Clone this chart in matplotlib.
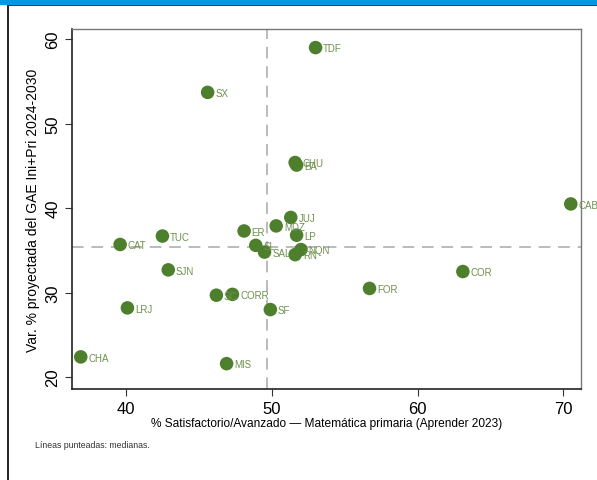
import numpy as np
import matplotlib
matplotlib.use("Agg")
import matplotlib.pyplot as plt
from matplotlib.lines import Line2D
from matplotlib.patches import Rectangle

plt.rcParams["font.family"] = ["Liberation Sans", "DejaVu Sans"]

# =====================================================
# Datos por jurisdicción
# =====================================================
jurisdicciones = ["TDF", "SX", "CHU", "BA", "CABA", "JUJ", "MDZ", "LP", "ER", "TUC",
                  "CAT", "SL", "SAL", "NQN", "RN", "SJN", "COR", "FOR", "SC", "CORR",
                  "LRJ", "SF", "CHA", "MIS"]
pct_satisf = [53.0, 45.6, 51.6, 51.7, 70.5, 51.3, 50.3, 51.7, 48.1, 42.5,
              39.6, 48.9, 49.5, 52.0, 51.6, 42.9, 63.1, 56.7, 46.2, 47.3,
              40.1, 49.9, 36.9, 46.9]
var_gae = [59.0, 53.7, 45.4, 45.1, 40.5, 38.9, 37.9, 36.8, 37.3, 36.7,
           35.7, 35.6, 34.8, 35.1, 34.5, 32.7, 32.5, 30.5, 29.7, 29.8,
           28.2, 28.0, 22.4, 21.6]

PUNTO = "#4e7f2c"
TEXTO = "#6f914d"

fig = plt.figure(figsize=(5.97, 4.81), dpi=100)
ax = fig.add_axes([72 / 597, 1 - 390 / 481, (581 - 72) / 597, (390 - 30) / 481])

# medianas
med_x = np.median(pct_satisf)
med_y = np.median(var_gae)
ax.axvline(med_x, color="#bbbbbb", linestyle=(0, (6, 4)), linewidth=1.4, zorder=1)
ax.axhline(med_y, color="#bbbbbb", linestyle=(0, (6, 4)), linewidth=1.4, zorder=1)

ax.scatter(pct_satisf, var_gae, s=95, color=PUNTO, edgecolor="none", zorder=3)
for nombre, x, y in zip(jurisdicciones, pct_satisf, var_gae):
    ax.annotate(nombre, (x, y), xytext=(5.5, -0.5), textcoords="offset points",
                fontsize=7, color=TEXTO, va="center", ha="left",
                annotation_clip=False, zorder=4)

ax.set_xlim(36.3, 71.2)
ax.set_ylim(18.6, 61.2)
ax.set_xticks([40, 50, 60, 70])
ax.set_yticks([20, 30, 40, 50, 60])
ax.tick_params(labelsize=12, length=5, width=0.8, color="#333333")
for lbl in ax.get_yticklabels():
    lbl.set_rotation(90)
    lbl.set_va("center")

for lado in ["left", "bottom"]:
    ax.spines[lado].set_color("#222222")
    ax.spines[lado].set_linewidth(1.2)
for lado in ["top", "right"]:
    ax.spines[lado].set_color("#777777")
    ax.spines[lado].set_linewidth(1.0)

ax.set_xlabel("% Satisfactorio/Avanzado — Matemática primaria (Aprender 2023)",
              fontsize=8.6, labelpad=1)
ax.set_ylabel("Var. % proyectada del GAE Ini+Pri 2024-2030", fontsize=10, labelpad=4)

fig.text(35 / 597, 1 - 446 / 481, "Líneas punteadas: medianas.", fontsize=6.3,
         color="#333333", va="center")

# marco del recuadro
fig.patches.append(Rectangle((0, 1 - 5 / 481), 1, 5 / 481, transform=fig.transFigure,
                             color="#0099dd", zorder=5))
fig.lines.append(Line2D([7.5 / 597, 7.5 / 597], [0, 1 - 5 / 481], transform=fig.transFigure,
                        color="#111111", linewidth=1.3))
fig.lines.append(Line2D([7.5 / 597, 1], [1 - 6 / 481, 1 - 6 / 481], transform=fig.transFigure,
                        color="#111111", linewidth=1.3))

fig.savefig("out.png", dpi=100)
